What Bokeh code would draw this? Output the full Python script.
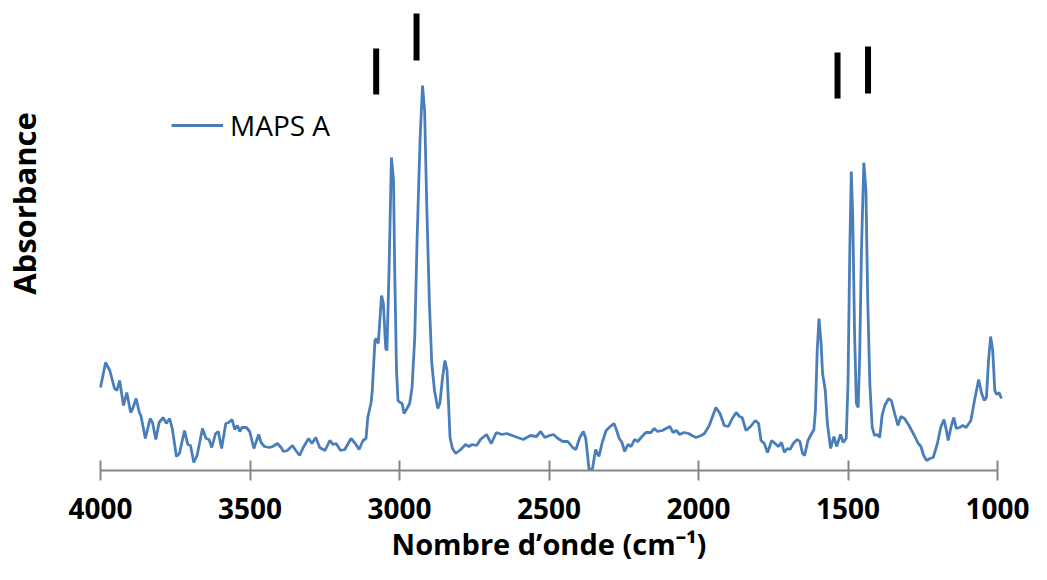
import math
from bokeh.plotting import figure
from bokeh.models import Range1d, FixedTicker, Label
from bokeh.embed import file_html
from bokeh.resources import INLINE

# ---- data ----
wavenumber = [
    4000, 3983, 3969, 3953, 3945, 3936, 3923, 3912, 3899, 3892, 3881, 3870, 3865, 3850,
    3834, 3826, 3815, 3804, 3790, 3780, 3769, 3760, 3746, 3736, 3719, 3708, 3699, 3688,
    3677, 3659, 3647, 3637, 3628, 3615, 3606, 3595, 3581, 3571, 3560, 3551, 3542, 3534,
    3527, 3512, 3501, 3487, 3471, 3463, 3452, 3435, 3424, 3408, 3396, 3388, 3375, 3358,
    3349, 3334, 3322, 3304, 3293, 3280, 3267, 3249, 3233, 3222, 3212, 3197, 3183, 3162,
    3148, 3135, 3122, 3112, 3106, 3095, 3091, 3082, 3078, 3071, 3060, 3054, 3046, 3042,
    3035, 3027, 3020, 3016, 3010, 3005, 2998, 2991, 2985, 2975, 2966, 2958, 2949, 2941,
    2931, 2923, 2916, 2909, 2900, 2892, 2883, 2872, 2865, 2856, 2848, 2841, 2836, 2831,
    2823, 2812, 2795, 2779, 2768, 2757, 2742, 2729, 2709, 2693, 2676, 2658, 2641, 2614,
    2586, 2562, 2542, 2528, 2514, 2498, 2485, 2470, 2454, 2437, 2421, 2410, 2397, 2385,
    2377, 2366, 2355, 2344, 2333, 2322, 2309, 2295, 2283, 2276, 2265, 2256, 2247, 2236,
    2225, 2214, 2203, 2192, 2176, 2159, 2148, 2137, 2121, 2096, 2085, 2074, 2063, 2049,
    2033, 2022, 2008, 1991, 1980, 1964, 1942, 1928, 1914, 1900, 1887, 1874, 1863, 1854,
    1841, 1826, 1810, 1799, 1791, 1780, 1769, 1755, 1744, 1733, 1722, 1713, 1703, 1694,
    1683, 1670, 1661, 1652, 1645, 1634, 1625, 1614, 1609, 1603, 1597, 1590, 1585, 1576,
    1569, 1558, 1547, 1538, 1525, 1516, 1506, 1500, 1494, 1489, 1484, 1478, 1472, 1466,
    1461, 1455, 1447, 1440, 1434, 1427, 1419, 1411, 1402, 1394, 1386, 1377, 1364, 1355,
    1344, 1333, 1323, 1311, 1296, 1278, 1265, 1256, 1247, 1237, 1226, 1215, 1201, 1190,
    1179, 1171, 1165, 1155, 1146, 1138, 1127, 1116, 1105, 1089, 1077, 1063, 1053, 1044,
    1037, 1030, 1023, 1016, 1009, 1003, 995, 987,
]
absorbance = [
    0.083, 0.108, 0.100, 0.082, 0.080, 0.090, 0.065, 0.078, 0.058, 0.062, 0.072, 0.058, 0.055, 0.032,
    0.052, 0.048, 0.031, 0.048, 0.053, 0.047, 0.052, 0.042, 0.014, 0.017, 0.040, 0.026, 0.025, 0.008,
    0.015, 0.042, 0.032, 0.031, 0.023, 0.037, 0.039, 0.022, 0.047, 0.048, 0.051, 0.041, 0.045, 0.039,
    0.043, 0.043, 0.039, 0.022, 0.036, 0.028, 0.024, 0.023, 0.024, 0.027, 0.023, 0.019, 0.020, 0.025,
    0.021, 0.015, 0.023, 0.032, 0.027, 0.033, 0.023, 0.020, 0.030, 0.026, 0.027, 0.020, 0.021, 0.032,
    0.027, 0.021, 0.030, 0.032, 0.053, 0.068, 0.080, 0.130, 0.132, 0.127, 0.175, 0.167, 0.122, 0.120,
    0.200, 0.313, 0.290, 0.200, 0.100, 0.070, 0.068, 0.067, 0.057, 0.062, 0.067, 0.083, 0.133, 0.233,
    0.333, 0.385, 0.360, 0.267, 0.167, 0.107, 0.080, 0.062, 0.067, 0.093, 0.110, 0.100, 0.067, 0.033,
    0.022, 0.017, 0.021, 0.026, 0.024, 0.026, 0.025, 0.031, 0.036, 0.027, 0.038, 0.036, 0.037, 0.034,
    0.031, 0.035, 0.034, 0.039, 0.033, 0.035, 0.036, 0.032, 0.029, 0.029, 0.023, 0.021, 0.033, 0.039,
    0.032, 0.001, 0.001, 0.021, 0.014, 0.028, 0.040, 0.044, 0.047, 0.042, 0.032, 0.028, 0.019, 0.026,
    0.024, 0.031, 0.029, 0.033, 0.038, 0.038, 0.042, 0.039, 0.040, 0.044, 0.038, 0.040, 0.036, 0.038,
    0.037, 0.035, 0.033, 0.035, 0.037, 0.045, 0.063, 0.057, 0.045, 0.044, 0.052, 0.058, 0.054, 0.053,
    0.040, 0.044, 0.050, 0.047, 0.030, 0.027, 0.018, 0.030, 0.027, 0.024, 0.028, 0.018, 0.022, 0.021,
    0.027, 0.031, 0.029, 0.017, 0.015, 0.030, 0.035, 0.041, 0.060, 0.120, 0.152, 0.127, 0.097, 0.080,
    0.047, 0.022, 0.034, 0.024, 0.036, 0.028, 0.032, 0.087, 0.220, 0.299, 0.253, 0.137, 0.067, 0.063,
    0.113, 0.220, 0.308, 0.280, 0.170, 0.087, 0.043, 0.035, 0.036, 0.033, 0.055, 0.065, 0.072, 0.070,
    0.057, 0.045, 0.054, 0.052, 0.045, 0.035, 0.027, 0.024, 0.015, 0.010, 0.012, 0.013, 0.027, 0.043,
    0.051, 0.040, 0.030, 0.044, 0.053, 0.042, 0.043, 0.045, 0.043, 0.050, 0.070, 0.091, 0.077, 0.070,
    0.073, 0.110, 0.134, 0.120, 0.080, 0.076, 0.078, 0.072,
]
tick_values = [4000, 3500, 3000, 2500, 2000, 1500, 1000]
band_positions = [3078, 2943, 1535, 1433]
band_low = [0.376, 0.410, 0.372, 0.377]
band_high = [0.422, 0.457, 0.418, 0.424]
series_name = "MAPS A"
x_title = "Nombre d\u2019onde (cm\u207b\u00b9)"
y_title = "Absorbance"

FONT = "Open Sans"
W, H = 1031, 564
# pixel placement of the axis: 4000 at x=100, 1000 at x=997, baseline at y=470
PX_PER_UNIT = 897 / 3000.0
X_START = 4000 + 100 / PX_PER_UNIT
X_END = X_START - W / PX_PER_UNIT
Y_END = 0.470
Y_START = Y_END - H / 1000.0

p = figure(width=W, height=H, output_backend="svg", toolbar_location=None,
           x_range=Range1d(X_START, X_END), y_range=Range1d(Y_START, Y_END),
           y_axis_location=None,
           min_border_left=0, min_border_right=0, min_border_top=0, min_border_bottom=0)
p.outline_line_color = None
p.grid.visible = False
p.background_fill_color = "white"
p.border_fill_color = "white"

p.line(wavenumber, absorbance, line_color="#4A7EBB", line_width=2.8, legend_label=series_name)
p.segment(x0=band_positions, y0=band_low, x1=band_positions, y1=band_high,
          line_color="black", line_width=6)

ax = p.xaxis[0]
ax.fixed_location = 0
ax.ticker = FixedTicker(ticks=tick_values)
ax.bounds = (1000, 4000)
ax.axis_line_color = "#868686"
ax.axis_line_width = 2
ax.major_tick_line_color = "#868686"
ax.major_tick_line_width = 2
ax.major_tick_in = 10
ax.major_tick_out = 10
ax.minor_tick_line_color = None
ax.major_label_standoff = 17
ax.major_label_text_font = FONT
ax.major_label_text_font_style = "bold"
ax.major_label_text_font_size = "28px"
ax.major_label_text_color = "black"

p.add_layout(Label(x=2500, y=-0.053, text=x_title, text_align="center",
                   text_baseline="top", text_font=FONT, text_font_style="bold",
                   text_font_size="29px", text_color="black"))
p.add_layout(Label(x=X_START - 23 / PX_PER_UNIT, y=0.267, text=y_title, angle=math.pi / 2,
                   text_align="center", text_baseline="middle", text_font=FONT,
                   text_font_style="bold", text_font_size="31px", text_color="black"))

lg = p.legend[0]
lg.location = (171, H - 125 - 20)
lg.border_line_color = None
lg.background_fill_alpha = 0
lg.padding = 0
lg.margin = 0
lg.spacing = 0
lg.glyph_width = 52
lg.glyph_height = 40
lg.label_height = 40
lg.label_standoff = 7
lg.label_text_font = FONT
lg.label_text_font_size = "28px"
lg.label_text_color = "black"

open("out.html", "w").write(file_html(p, INLINE))
